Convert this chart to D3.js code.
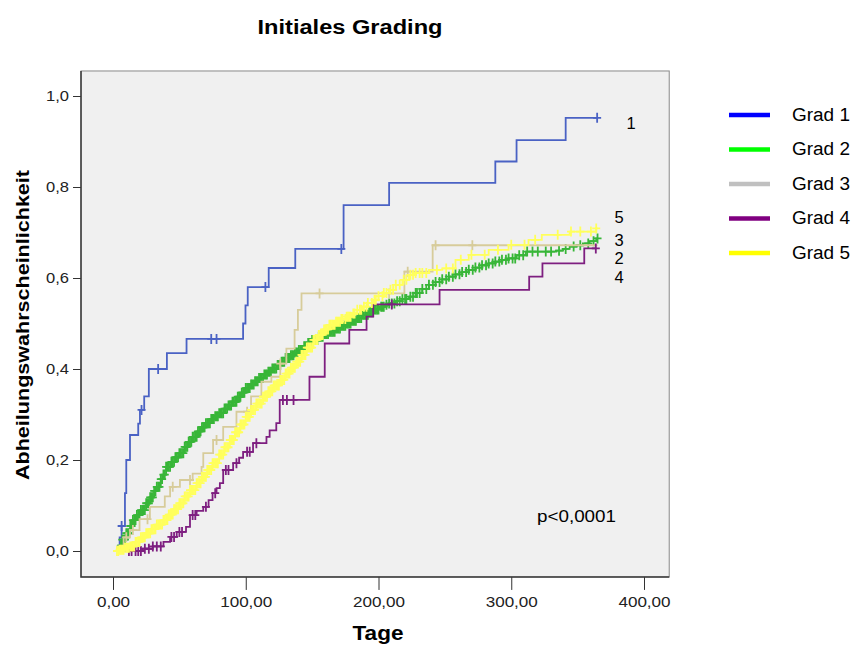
<!DOCTYPE html>
<html>
<head>
<meta charset="utf-8">
<script src="https://cdn.jsdelivr.net/npm/d3@7"></script>
<style>
  body { margin: 0; background: #fff; }
  text { font-family: "Liberation Sans", Arial, sans-serif; }
</style>
</head>
<body>
<div class="chart-container"></div>
<script>
//! DATA  (Kaplan-Meier steps: [Tage, Abheilungswahrscheinlichkeit])
const grades = ['Grad 1', 'Grad 2', 'Grad 3', 'Grad 4', 'Grad 5']

const grad1Steps = [[0,0],[5,0.03],[6.5,0.055],[9,0.127],[10,0.2],[12.8,0.255],[19,0.28],[20.3,0.31],[23.5,0.34],[27,0.40],[40.6,0.435],[55.4,0.466],[98,0.50],[99.8,0.54],[101.5,0.58],[117.3,0.622],[137.3,0.664],[173.7,0.76],[208,0.809],[288,0.856],[304,0.903],[341,0.952],[364.7,0.952]]
const grad1Censored = [6.5, 21.5, 34, 74, 78, 114.8, 172, 364.7]

const grad2Steps = [[0,0],[4,0.012],[7,0.025],[10,0.039],[13,0.055],[15,0.068],[18,0.079],[21,0.09],[25,0.105],[28,0.118],[31,0.132],[33,0.141],[36,0.158],[38,0.168],[40,0.185],[44,0.196],[47,0.206],[50,0.215],[54,0.229],[57,0.24],[60,0.251],[64,0.263],[67,0.272],[70,0.281],[74,0.29],[77,0.296],[80,0.303],[84,0.313],[87,0.32],[90,0.328],[94,0.339],[97,0.348],[100,0.358],[104,0.366],[107,0.373],[110,0.38],[114,0.388],[117,0.394],[120,0.401],[124,0.409],[127,0.416],[130,0.424],[134,0.43],[137,0.436],[140,0.442],[144,0.45],[147,0.457],[150,0.464],[155,0.471],[159,0.477],[163,0.482],[168,0.489],[172,0.495],[176,0.5],[180,0.506],[184,0.512],[188,0.519],[193,0.525],[197,0.531],[201,0.537],[205,0.541],[208,0.544],[213,0.549],[218,0.554],[223,0.559],[228,0.567],[233,0.576],[238,0.585],[243,0.591],[248,0.597],[253,0.603],[258,0.608],[263,0.613],[268,0.618],[273,0.623],[278,0.628],[283,0.632],[288,0.636],[293,0.64],[298,0.643],[304,0.65],[311,0.658],[334,0.66],[339,0.664],[344,0.669],[349,0.672],[354,0.676],[359,0.681],[364,0.687],[365,0.687]]
const grad2Censored = [6,7,8,9,10,11,12,13,14,15,16,17,18,19,20,21,22,23,24,25,26,27,28,29,30,31,32,33,34,35,36,37,38,39,40,41,42,43,44,45,46,47,48,49,50,51,52,53,54,55,56,57,58,59,60,61,62,63,64,65,66,67,68,69,70,71,72,73,74,75,76,77,78,79,80,81,82,83,84,85,86,87,88,89,90,91,92,93,94,95,96,97,98,99,100,101,102,103,104,105,106,107,108,109,110,111,112,113,114,115,116,117,118,119,120,121,122,123,124,125,126,127,128,129,130,131,132,133,134,135,136,137,138,139,140,141,142,143,144,145,146,147,148,149,150,151,152,153,154,155,156,157,158,159,160,161,162,163,164,165,166,167,168,169,170,171,172,173,174,175,176,177,178,179,180,181,182,183,184,185,186,187,188,189,190,191,192,193,194,195,196,197,198,199,200,202,203,204,206,208,210,212,214,216,218,220,221,224,226,228,229,231,233,236,238,241,243,246,248,251,253,256,258,261,263,266,268,271,273,276,278,281,283,286,288,291,293,296,298,301,303,306,309,312,316,320,326,330,336,341,347,352,358,362,365]

const grad3Steps = [[0,0],[3,0.01],[8,0.03],[12.8,0.046],[20,0.07],[27.8,0.097],[39,0.12],[43,0.141],[50.4,0.156],[60,0.17],[66.7,0.185],[68,0.215],[75.4,0.244],[83,0.273],[93,0.306],[104,0.34],[111.8,0.372],[119.3,0.383],[126,0.412],[130.6,0.445],[136.8,0.486],[139.3,0.53],[142,0.566],[219.5,0.614],[240.8,0.672],[365,0.672]]
const grad3Censored = [10, 15, 26, 45, 58, 78, 101, 126, 155.6, 208, 222, 243, 270.7]

const grad4Steps = [[3,0],[22,0.005],[30,0.01],[38,0.02],[43,0.031],[48,0.042],[55,0.053],[58,0.079],[63,0.088],[68,0.097],[72,0.112],[75,0.127],[78,0.138],[80.5,0.149],[83,0.178],[90.5,0.193],[95,0.205],[98,0.218],[105.5,0.237],[115.6,0.251],[118,0.265],[123,0.281],[125.6,0.332],[148,0.383],[159.5,0.456],[178,0.486],[191,0.515],[196,0.542],[246,0.574],[313.5,0.603],[323.5,0.632],[355,0.665],[364,0.665]]
const grad4Censored = [12,14,17,19,21,24,27,30,33,36,44,46,50,52,60,62,70,77,85,87,93,101,103,108,128,131,136,210,363.7]

const grad5Steps = [[0,0],[5,0.003],[9,0.007],[13,0.01],[17,0.02],[21,0.03],[25,0.039],[29,0.048],[33,0.058],[38,0.068],[42,0.08],[46,0.092],[50,0.105],[54,0.12],[58,0.134],[63,0.149],[67,0.163],[71,0.178],[75,0.193],[80,0.212],[84,0.228],[88,0.244],[92,0.261],[96,0.278],[100,0.295],[104,0.31],[108,0.324],[113,0.339],[117,0.351],[121,0.364],[126,0.376],[130,0.39],[134,0.403],[138,0.416],[142,0.431],[146,0.447],[151,0.464],[155,0.475],[159,0.487],[163,0.497],[168,0.504],[172,0.51],[176,0.515],[180,0.522],[184,0.53],[188,0.537],[192,0.545],[196,0.552],[200,0.56],[204,0.567],[208,0.574],[213,0.585],[218,0.596],[223,0.607],[228,0.611],[238,0.618],[248,0.621],[258,0.64],[268,0.651],[283,0.662],[298,0.673],[313,0.684],[323,0.695],[344,0.702],[364,0.709],[365,0.709]]
const grad5Censored = [3,4,5,6,7,8,9,10,11,12,13,14,15,16,17,18,19,20,21,22,23,24,25,26,27,28,29,30,31,32,33,34,35,36,37,38,39,40,41,42,43,44,45,46,47,48,49,50,51,52,53,54,55,56,57,58,59,60,61,62,63,64,65,66,67,68,69,70,71,72,73,74,75,76,77,78,79,80,81,82,83,84,85,86,87,88,89,90,91,92,93,94,95,96,97,98,99,100,101,102,103,104,105,106,107,108,109,110,111,112,113,114,115,116,117,118,119,120,121,122,123,124,125,126,127,128,129,130,131,132,133,134,135,136,137,138,139,140,141,142,143,144,145,146,147,148,149,150,151,152,153,154,155,156,157,158,159,160,161,162,163,164,165,166,167,168,169,170,171,172,173,175,176,177,178,179,181,182,184,186,187,189,191,192,195,197,198,200,203,204,206,209,211,213,216,219,221,224,226,228,231,233,236,244,251,256,262,270,280,290,300,310,318,335,345,352,360,364]

const endLabels = ['1', '2', '3', '4', '5']
const xTicks = [0, 100, 200, 300, 400]
const yTicks = [0, 0.2, 0.4, 0.6, 0.8, 1.0]

//! CONSTS
const width = 855
const height = 645
const plotColors = ['#4a62c4', '#38b638', '#d7cc9a', '#7e1f80', '#ffff5c']
const legendColors = ['#0000ff', '#00ff00', '#c0c0c0', '#800080', '#ffff00']

const series = [
  { steps: grad1Steps, cens: grad1Censored },
  { steps: grad2Steps, cens: grad2Censored },
  { steps: grad3Steps, cens: grad3Censored },
  { steps: grad4Steps, cens: grad4Censored },
  { steps: grad5Steps, cens: grad5Censored }
]

//! SVG
const svg = d3.select('.chart-container')
  .append('svg')
  .attr('width', width)
  .attr('height', height)

//! SCALES
const xScale = d3.scaleLinear().domain([0, 400]).range([113, 644])
const yScale = d3.scaleLinear().domain([0, 1]).range([551, 96])

const frame = { left: xScale(-24.1), right: xScale(419), top: yScale(1.055), bottom: yScale(-0.057) }

svg.append('rect')
  .attr('x', frame.left).attr('y', frame.top)
  .attr('width', frame.right - frame.left).attr('height', frame.bottom - frame.top)
  .attr('fill', '#f0f0f0')
  .attr('stroke', '#8a8a8a')

//! AXES
const comma = s => s.replace('.', ',')

const xAxis = svg.append('g')
  .attr('transform', `translate(0,${frame.bottom})`)
  .call(d3.axisBottom(xScale).tickValues(xTicks).tickSize(13).tickPadding(7)
    .tickFormat(d => comma(d3.format('.2f')(d))))
xAxis.select('.domain').remove()
xAxis.selectAll('line').attr('stroke', '#333')
xAxis.selectAll('text')
  .attr('font-size', 14).attr('fill', '#222')
  .attr('transform', 'scale(1.22,1)')

const yAxis = svg.append('g')
  .attr('transform', `translate(${frame.left},0)`)
  .call(d3.axisLeft(yScale).tickValues(yTicks).tickSize(8).tickPadding(4)
    .tickFormat(d => comma(d3.format('.1f')(d))))
yAxis.select('.domain').remove()
yAxis.selectAll('line').attr('stroke', '#333')
yAxis.selectAll('text')
  .attr('font-size', 14).attr('fill', '#222')
  .attr('x', -12 / 1.18)
  .attr('transform', 'scale(1.18,1)')

// darker left / bottom frame lines
svg.append('path')
  .attr('d', `M${frame.left},${frame.top}V${frame.bottom}H${frame.right}`)
  .attr('fill', 'none').attr('stroke', '#3a3a3a').attr('stroke-width', 1.5)

//! CURVES
const line = d3.line()
  .x(d => xScale(d[0]))
  .y(d => yScale(d[1]))
  .curve(d3.curveStepAfter)

const valueAt = (steps, t) => {
  let v = steps[0][1]
  steps.forEach(s => { if (s[0] <= t) v = s[1] })
  return v
}

const curves = svg.append('g')
series.forEach((s, i) => {
  curves.append('path')
    .datum(s.steps)
    .attr('d', line)
    .attr('fill', 'none')
    .attr('stroke', plotColors[i])
    .attr('stroke-width', 1.8)

  curves.selectAll(null)
    .data(s.cens)
    .enter()
    .append('path')
    .attr('d', t => {
      const cx = xScale(t), cy = yScale(valueAt(s.steps, t))
      return `M${cx - 4},${cy}H${cx + 4}M${cx},${cy - 5}V${cy + 5}`
    })
    .attr('stroke', plotColors[i])
    .attr('stroke-width', 1.8)
})

//! END LABELS
const endPos = { '1': [631, 123], '5': [619, 217], '3': [619, 240], '2': [619, 258], '4': [619, 277] }
endLabels.forEach(l => {
  svg.append('text')
    .attr('x', endPos[l][0]).attr('y', endPos[l][1])
    .attr('dy', '0.36em')
    .attr('text-anchor', 'middle')
    .attr('font-size', 16.5)
    .text(l)
})

svg.append('text')
  .attr('x', 537).attr('y', 522)
  .attr('font-size', 17)
  .attr('textLength', 79).attr('lengthAdjust', 'spacingAndGlyphs')
  .text('p<0,0001')

//! TITLES
svg.append('text')
  .attr('x', 350).attr('y', 34)
  .attr('text-anchor', 'middle')
  .attr('font-size', 20).attr('font-weight', 'bold')
  .attr('textLength', 185).attr('lengthAdjust', 'spacingAndGlyphs')
  .text('Initiales Grading')

svg.append('text')
  .attr('x', 378).attr('y', 640)
  .attr('text-anchor', 'middle')
  .attr('font-size', 21).attr('font-weight', 'bold')
  .attr('textLength', 51).attr('lengthAdjust', 'spacingAndGlyphs')
  .text('Tage')

svg.append('text')
  .attr('transform', 'translate(29,325) rotate(-90)')
  .attr('text-anchor', 'middle')
  .attr('font-size', 19).attr('font-weight', 'bold')
  .attr('textLength', 310).attr('lengthAdjust', 'spacingAndGlyphs')
  .text('Abheilungswahrscheinlichkeit')

//! LEGEND
const legend = svg.append('g')
grades.forEach((g, i) => {
  const ly = 115 + i * 34.5
  legend.append('line')
    .attr('x1', 729).attr('x2', 770)
    .attr('y1', ly).attr('y2', ly)
    .attr('stroke', legendColors[i])
    .attr('stroke-width', 4.5)
  legend.append('text')
    .attr('x', 792).attr('y', ly)
    .attr('dy', '0.33em')
    .attr('font-size', 18)
    .attr('textLength', 58).attr('lengthAdjust', 'spacingAndGlyphs')
    .text(g)
})
</script>
</body>
</html>
